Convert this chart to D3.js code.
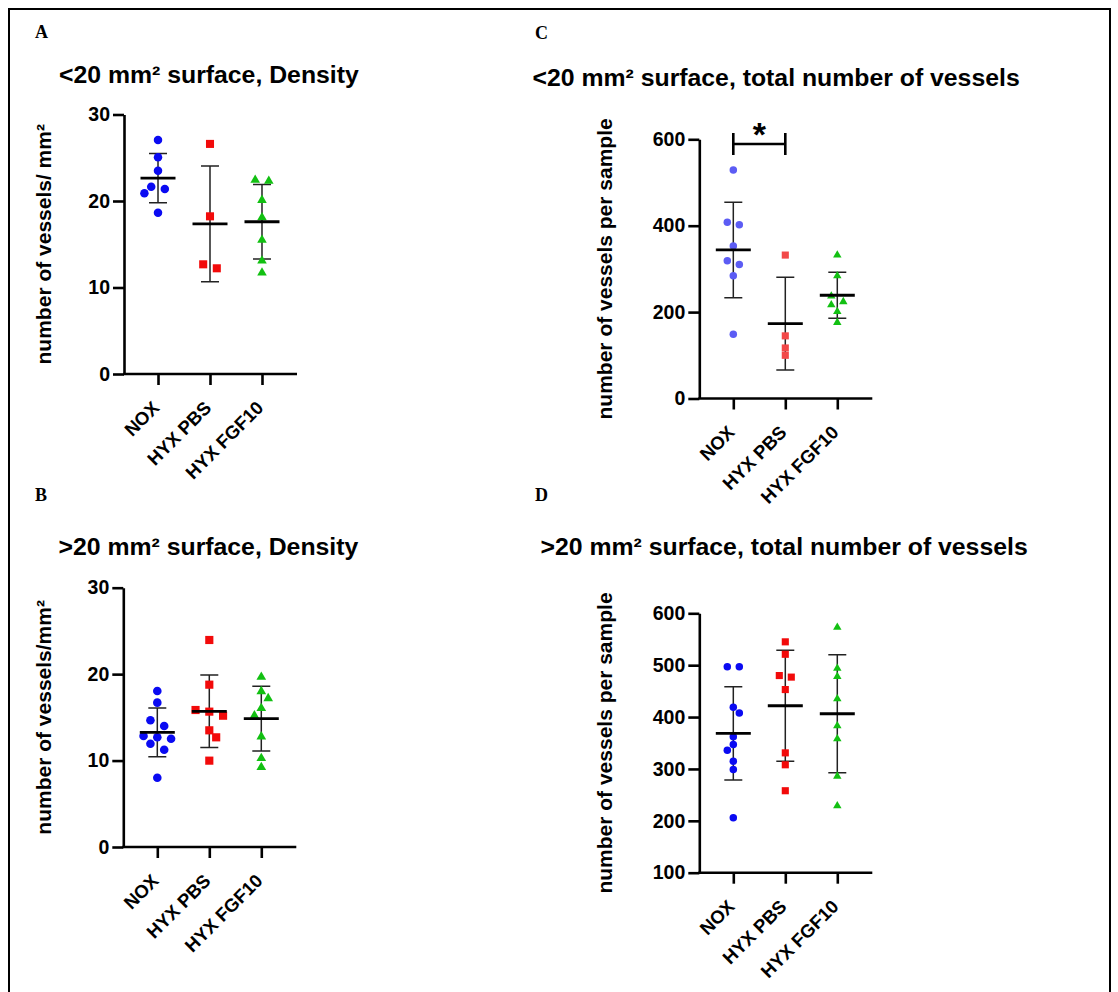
<!DOCTYPE html>
<html>
<head>
<meta charset="utf-8">
<script src="https://cdn.jsdelivr.net/npm/d3@7"></script>
<style>
  body { margin: 0; background: #fff; }
  svg text { font-family: "Liberation Sans", Arial, sans-serif; font-weight: bold; }
</style>
</head>
<body>
<svg id="chart" width="1118" height="992"></svg>
<script>
// groups on the x axis
var categories = ["NOX", "HYX PBS", "HYX FGF10"];

// A: <20 mm2, density
var densSmallNox = [27.05, 25.05, 23.5, 21.65, 21.4, 20.9, 18.65];
var densSmallPbs = [26.6, 18.23, 12.68, 12.22];
var densSmallFgf = [22.43, 22.3, 20.1, 18.1, 15.5, 13.1, 11.7];
var densSmallMean = [22.65, 17.36, 17.6];
var densSmallSd = [2.85, 6.69, 4.3];

// B: >20 mm2, density
var densLargeNox = [18.05, 16.7, 14.66, 14.0, 12.84, 12.69, 12.53, 11.95, 11.26, 8.02];
var densLargePbs = [23.95, 18.78, 15.85, 15.66, 15.19, 13.5, 12.69, 9.99];
var densLargeFgf = [19.67, 18.01, 17.2, 16.05, 15.19, 12.76, 10.26, 9.22];
var densLargeMean = [13.27, 15.7, 14.85];
var densLargeSd = [2.82, 4.2, 3.75];

// C: <20 mm2, total number
var totalSmallNox = [529, 408, 402, 353, 319, 310, 284, 149];
var totalSmallPbs = [332, 145, 117, 100];
var totalSmallFgf = [332, 284, 237, 224, 217, 201, 176];
var totalSmallMean = [344, 173.4, 239];
var totalSmallSd = [110.5, 107.4, 53.3];

// D: >20 mm2, total number
var totalLargeNox = [497, 497, 419, 408, 362, 347, 336, 315, 299, 206];
var totalLargePbs = [545, 521, 480, 477, 453, 331, 308, 258];
var totalLargeFgf = [573, 494, 478, 435, 383, 358, 286, 229];
var totalLargeMean = [368.6, 421.8, 406.4];
var totalLargeSd = [89.9, 107.2, 113.7];

var densTicks = [0, 10, 20, 30];
var totalSmallTicks = [0, 200, 400, 600];
var totalLargeTicks = [100, 200, 300, 400, 500, 600];

// significance bracket in C
var sigPairs = [{a: "NOX", b: "HYX PBS", label: "*", level: 589}];

var svg = d3.select("#chart");

// frame round the figure
svg.append("rect")
    .attr("x", 9).attr("y", 9)
    .attr("width", 1101).attr("height", 1000)
    .attr("fill", "none").attr("stroke", "black").attr("stroke-width", 2);

var darkCols = ["#0a0af2", "#f20a0a", "#12c012"];
var lightCols = ["#5c5cf4", "#f24848", "#12c012"];
var shapes = [d3.symbolCircle, d3.symbolSquare, d3.symbolTriangle];

var panels = [
    {letter: "A", lx: 35, ly: 38, title: "<20 mm\u00b2 surface, Density", tx: 59, ty: 83,
     ylab: "number of vessels/ mm\u00b2", ylx: 51, axisX: 124, yTop: 114.5, yBot: 374,
     domain: [0, 30], ticks: densTicks, groups: [densSmallNox, densSmallPbs, densSmallFgf],
     mean: densSmallMean, sd: densSmallSd, cols: darkCols, d: 8.5, sig: []},
    {letter: "B", lx: 35, ly: 501, title: ">20 mm\u00b2 surface, Density", tx: 58.5, ty: 555,
     ylab: "number of vessels/mm\u00b2", ylx: 51, axisX: 123.3, yTop: 587.7, yBot: 847,
     domain: [0, 30], ticks: densTicks, groups: [densLargeNox, densLargePbs, densLargeFgf],
     mean: densLargeMean, sd: densLargeSd, cols: darkCols, d: 8.6, sig: []},
    {letter: "C", lx: 535, ly: 38.5, title: "<20 mm\u00b2 surface, total number of vessels", tx: 532.5, ty: 86,
     ylab: "number of vessels per sample", ylx: 612, axisX: 699.3, yTop: 139.3, yBot: 398.5,
     domain: [0, 600], ticks: totalSmallTicks, groups: [totalSmallNox, totalSmallPbs, totalSmallFgf],
     mean: totalSmallMean, sd: totalSmallSd, cols: lightCols, d: 7.5, sig: sigPairs},
    {letter: "D", lx: 535, ly: 501, title: ">20 mm\u00b2 surface, total number of vessels", tx: 540.5, ty: 555,
     ylab: "number of vessels per sample", ylx: 612, axisX: 699.3, yTop: 613.3, yBot: 872.7,
     domain: [100, 600], ticks: totalLargeTicks, groups: [totalLargeNox, totalLargePbs, totalLargeFgf],
     mean: totalLargeMean, sd: totalLargeSd, cols: darkCols, d: 7.5, sig: []}
];

// prism-like scatter: near-equal values share a row, then nudge any overlaps sideways
function rowOffsets(vals, y, d) {
    var idx = vals.map((v, i) => i).sort((a, b) => vals[b] - vals[a]);
    var off = new Array(vals.length).fill(0);
    var rows = [];
    idx.forEach(function(i) {
        var last = rows[rows.length - 1];
        if (last && Math.abs(y(vals[i]) - y(vals[last[0]])) < d * 0.75) last.push(i);
        else rows.push([i]);
    });
    rows.forEach(function(r) {
        r.forEach(function(i, k) { off[i] = (k - (r.length - 1) / 2) * d * 1.6; });
    });
    var placed = [], side = 1;
    idx.forEach(function(i) {
        var base = off[i], step = 0;
        function hits(xo) {
            return placed.some(j => Math.hypot(off[j] - xo, y(vals[j]) - y(vals[i])) < d * 0.95);
        }
        var xo = base;
        while (hits(xo) && step < 6) {
            step++;
            xo = base + side * d * 0.8 * Math.ceil(step / 2) * (step % 2 ? 1 : -1);
        }
        if (step) side = -side;
        off[i] = xo;
        placed.push(i);
    });
    return off;
}

function drawPanel(p) {
    var g = svg.append("g");

    g.append("text").attr("x", p.lx).attr("y", p.ly)
        .style("font-family", "'Liberation Serif', 'Times New Roman', serif")
        .style("font-size", "18px").text(p.letter);

    g.append("text").attr("x", p.tx).attr("y", p.ty)
        .style("font-size", "24.8px").text(p.title);

    var y = d3.scaleLinear().domain(p.domain).range([p.yBot, p.yTop]);
    var x = d3.scalePoint().domain(categories)
        .range([p.axisX, p.axisX + 172]).padding(0.654);

    // y label
    g.append("text")
        .attr("transform", `translate(${p.ylx}, ${(p.yTop + p.yBot) / 2}) rotate(-90)`)
        .attr("text-anchor", "middle")
        .style("font-size", "21px").text(p.ylab);

    // axes
    var ya = g.append("g").attr("transform", `translate(${p.axisX},0)`)
        .call(d3.axisLeft(y).tickValues(p.ticks).tickSize(11).tickSizeOuter(0).tickPadding(3));
    var xa = g.append("g").attr("transform", `translate(0,${p.yBot})`)
        .call(d3.axisBottom(x).tickSize(11).tickSizeOuter(0));
    xa.select(".domain").attr("d", `M${p.axisX - 1},0H${p.axisX + 173}`);
    [ya, xa].forEach(function(a) {
        a.selectAll("path, line").attr("stroke", "black").attr("stroke-width", 2.6);
        a.selectAll("text").attr("fill", "black");
    });
    ya.selectAll("text").style("font-size", "19.5px");
    xa.selectAll("text")
        .style("font-size", "18.5px")
        .attr("text-anchor", "end")
        .attr("x", 2).attr("y", 35).attr("dy", 0)
        .attr("transform", "rotate(-45 2 35)");

    // SD whiskers
    categories.forEach(function(c, i) {
        var cx = x(c), lo = y(p.mean[i] - p.sd[i]), hi = y(p.mean[i] + p.sd[i]);
        var path = d3.path();
        path.moveTo(cx, hi); path.lineTo(cx, lo);
        path.moveTo(cx - 9, hi); path.lineTo(cx + 9, hi);
        path.moveTo(cx - 9, lo); path.lineTo(cx + 9, lo);
        g.append("path").attr("d", path).attr("stroke", "#222")
            .attr("stroke-width", 1.5).attr("fill", "none");
    });

    // points
    p.groups.forEach(function(vals, i) {
        var off = rowOffsets(vals, y, p.d);
        var area = i == 0 ? Math.PI * p.d * p.d / 4 : (i == 1 ? p.d * p.d * 0.9 : p.d * p.d * 0.55);
        var sym = d3.symbol().type(shapes[i]).size(area);
        g.selectAll(null).data(vals).enter().append("path")
            .attr("d", sym)
            .attr("transform", (v, k) => `translate(${x(categories[i]) + off[k]},${y(v)})`)
            .attr("fill", p.cols[i]);
    });

    // mean lines
    categories.forEach(function(c, i) {
        g.append("line")
            .attr("x1", x(c) - 17.5).attr("x2", x(c) + 17.5)
            .attr("y1", y(p.mean[i])).attr("y2", y(p.mean[i]))
            .attr("stroke", "black").attr("stroke-width", 2.8);
    });

    // significance
    p.sig.forEach(function(s) {
        var yy = y(s.level), x1 = x(s.a), x2 = x(s.b);
        var path = d3.path();
        path.moveTo(x1, yy - 11); path.lineTo(x1, yy + 11);
        path.moveTo(x1, yy); path.lineTo(x2, yy);
        path.moveTo(x2, yy - 11); path.lineTo(x2, yy + 11);
        g.append("path").attr("d", path).attr("stroke", "black")
            .attr("stroke-width", 2.6).attr("fill", "none");
        g.append("text").attr("x", (x1 + x2) / 2).attr("y", yy + 2)
            .attr("text-anchor", "middle").style("font-size", "34px").text(s.label);
    });
}

panels.forEach(drawPanel);
</script>
</body>
</html>
